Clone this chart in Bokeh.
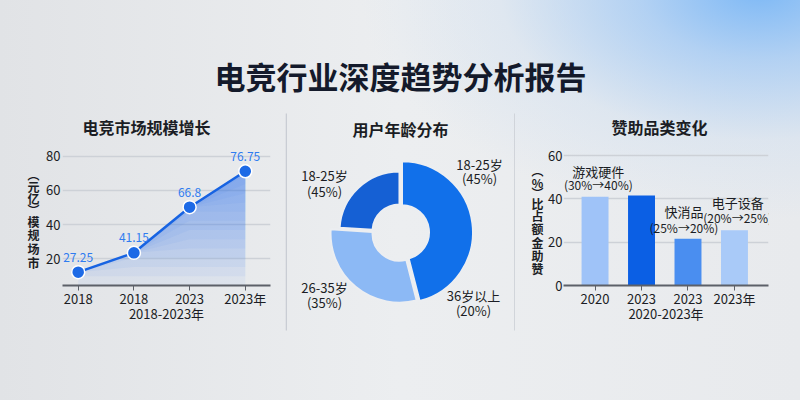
import math
from bokeh.plotting import figure
from bokeh.layouts import column, row
from bokeh.models import Range1d, Label, LabelSet, ColumnDataSource
from bokeh.core.properties import value
from bokeh.embed import file_html
from bokeh.resources import INLINE

FONT = "Noto Sans CJK SC"
DARK = "#1b1d24"

# ---------------- data ----------------
main_title = "电竞行业深度趋势分析报告"

market_title = "电竞市场规模增长"
market_ticks = ["2018", "2018", "2023", "2023年"]
market_size = [12.2, 23.5, 50.2, 71.2]
market_labels = ["27.25", "41.15", "66.8", "76.75"]
market_xlabel = "2018-2023年"
market_ylabel = "市场规模(亿元)"
market_yticks = [20, 40, 60, 80]

age_title = "用户年龄分布"
age_share = [46, 30, 24]
age_line1 = ["18-25岁", "36岁以上", "26-35岁", "18-25岁"]
age_line2 = ["(45%)", "(20%)", "(35%)", "(45%)"]

sponsor_title = "赞助品类变化"
sponsor_ticks = ["2020", "2023", "2023", "2023年"]
sponsor_share = [41.0, 41.6, 21.6, 25.5]
sponsor_note1 = ["游戏硬件", "快消品", "电子设备"]
sponsor_note2 = ["(30%→40%)", "(25%→20%)", "(20%→25%)"]
sponsor_xlabel = "2020-2023年"
sponsor_ylabel = "赞助金额占比(%)"
sponsor_yticks = [0, 20, 40, 60]

# ---------------- styles / layout ----------------
age_colors = ["#1170ea", "#8cb9f5", "#1560d4"]
age_outer = [71, 69, 60]
bar_colors = ["#9fc3f8", "#0b5fe4", "#4a8ef0", "#a9caf8"]
ylab1_pos = [174, 186, 198, 209, 221, 234, 248, 262]
ylab3_pos = [170, 181.5, 192, 203, 215, 228, 241.5, 255, 268]


def vertical_chars(s):
    rev = s[::-1].replace(")", "\uFE35").replace("(", "\uFE36")
    return list(rev)


def base_fig(w, h, xr, yr, ml, mr, mt, mb, axes=True):
    kw = dict(width=w, height=h, x_range=Range1d(*xr), y_range=Range1d(*yr),
              output_backend="svg", toolbar_location=None,
              min_border_left=ml, min_border_right=mr,
              min_border_top=mt, min_border_bottom=mb)
    if not axes:
        kw.update(x_axis_type=None, y_axis_type=None)
    p = figure(**kw)
    p.background_fill_alpha = 0
    p.border_fill_alpha = 0
    p.outline_line_color = None
    if not axes:
        p.frame_align = False
    return p


def style_axes(p, xticks, xoverrides, xlabel, yticks):
    p.xaxis.ticker = xticks
    p.xaxis.major_label_overrides = xoverrides
    p.yaxis.ticker = yticks
    for ax in p.axis:
        ax.major_label_text_font = FONT
        ax.major_label_text_font_size = "13px"
        ax.major_label_text_color = DARK
        ax.minor_tick_line_color = None
        ax.minor_tick_out = 0
        ax.minor_tick_in = 0
    p.yaxis.axis_line_color = None
    p.yaxis.major_tick_line_color = None
    p.yaxis.major_tick_out = 0
    p.yaxis.major_tick_in = 0
    p.yaxis.major_label_standoff = 2
    p.xaxis.axis_label = xlabel
    p.xaxis.axis_label_text_font = FONT
    p.xaxis.axis_label_text_font_size = "13px"
    p.xaxis.axis_label_text_font_style = "normal"
    p.xaxis.axis_label_text_color = DARK
    p.xaxis.axis_label_standoff = -7
    p.xaxis.axis_line_color = "#5c6068"
    p.xaxis.axis_line_width = 1.8
    p.xaxis.major_tick_line_color = "#5c6068"
    p.xaxis.major_tick_out = 5
    p.xaxis.major_tick_in = 0
    p.xaxis.major_label_standoff = -2
    p.xgrid.grid_line_color = None
    p.ygrid.grid_line_color = "#cdd1d7"
    p.ygrid.grid_line_width = 1.5


def set_title(p, text, offset):
    p.title.text = text
    p.title.align = "left"
    p.title.offset = offset
    p.title.text_font = FONT
    p.title.text_font_size = "16px"
    p.title.text_font_style = "bold"
    p.title.text_color = DARK
    p.title.standoff = 3


def add_text(p, x, y, text, size="13px", bold=False, color=DARK):
    p.add_layout(Label(x=x, y=y, text=text, text_font=FONT, text_font_size=size,
                       text_font_style="bold" if bold else "normal",
                       text_color=color, text_align="center",
                       text_baseline="middle"))


def label_fig(w, text, cx, ypos):
    f = base_fig(w, 300, (0, w), (0, 300), 0, 0, 0, 0, axes=False)
    chars = vertical_chars(text)
    ys = [400 - y for y in ypos]
    f.text(x=[cx] * len(chars), y=ys, text=chars, text_font=value(FONT),
           text_font_size="12px", text_font_style="bold", text_align="center",
           text_baseline="middle", text_color=DARK)
    return f


# ---------------- title strip ----------------
pt = base_fig(800, 100, (0, 800), (0, 100), 0, 0, 0, 0, axes=False)
pt.text(x=[400], y=[25], text=[main_title], text_font=value(FONT),
        text_font_size="31px", text_font_style="bold", text_align="center",
        text_baseline="middle", text_color="#141a2b")

# ---------------- chart 1: line ----------------
LW1 = 42
lab1 = label_fig(LW1, market_ylabel, 33, ylab1_pos)

S1X, S1Y = 55.7, 1.71
L1, R1, B1, T1 = 62, 270, 285, 140
x1_0 = -(77.7 - L1) / S1X
x1_1 = x1_0 + (R1 - L1) / S1X
y1_0 = 4.4
y1_1 = y1_0 + (B1 - T1) / S1Y
p1 = base_fig(285 - LW1, 300, (x1_0, x1_1), (y1_0, y1_1), L1 - LW1, 285 - R1, T1 - 100, 400 - B1)

xs1 = list(range(len(market_size)))
style_axes(p1, xs1, {i: t for i, t in enumerate(market_ticks)}, market_xlabel, market_yticks)
set_title(p1, market_title, 146 - 64 - L1)

# vertical gradient under the line
N = 14
top_level = 80.0
for k in range(N):
    lev = y1_0 + (top_level - y1_0) * k / N
    p1.varea(x=xs1, y1=[min(v, lev) for v in market_size], y2=market_size,
             fill_color="#2f7ff0", fill_alpha=0.058)

p1.line(xs1, market_size, line_color="#1763e2", line_width=2.5)
p1.scatter(xs1, market_size, size=13, fill_color="#1d6ae6",
           line_color="white", line_width=1.5)
src1 = ColumnDataSource(dict(x=xs1, y=[v + 15 / S1Y for v in market_size], t=market_labels))
p1.add_layout(LabelSet(x="x", y="y", text="t", source=src1, text_font=value(FONT),
                       text_font_size="12px", text_color="#2f7cf0",
                       text_align="center", text_baseline="middle"))

# ---------------- chart 2: donut ----------------
p2 = base_fig(230, 300, (285, 515), (0, 300), 0, 0, 0, 0, axes=False)


def c2(px, py):
    return px, 400 - py


cx, cy = c2(400, 232)
total = sum(age_share)
a = math.pi / 2
xs2, ys2, st, en = [], [], [], []
for s in age_share:
    span = 2 * math.pi * s / total
    start, end = a - span, a
    mid = (start + end) / 2
    xs2.append(cx + 1.5 * math.cos(mid))
    ys2.append(cy + 1.5 * math.sin(mid))
    st.append(start)
    en.append(end)
    a -= span
p2.annular_wedge(x=xs2, y=ys2, inner_radius=27, outer_radius=age_outer,
                 start_angle=st, end_angle=en, fill_color=age_colors,
                 line_color="#eceef1", line_width=2)

age_pos = [(479, 164, 178), (473, 295, 309.5), (324, 287, 302), (324, 175, 190.5)]
for (px, y1, y2), t1, t2 in zip(age_pos, age_line1, age_line2):
    add_text(p2, *c2(px, y1), t1, size="13px")
    add_text(p2, *c2(px, y2), t2, size="13px")

add_text(p2, *c2(400, 128), age_title, size="16px", bold=True)
for sx in (285.7, 514.5):
    p2.segment(x0=[sx], y0=[c2(0, 113)[1]], x1=[sx], y1=[c2(0, 330)[1]],
               line_color="#c8ccd3", line_width=1.5)

# ---------------- chart 3: bars ----------------
LW3 = 30
lab3 = label_fig(LW3, sponsor_ylabel, 537 - 515, ylab3_pos)

S3X, S3Y = 46.7, 2.178
L3, R3, B3, T3 = 562, 768, 286, 140
x3_0 = -(593.7 - L3) / S3X
x3_1 = x3_0 + (R3 - L3) / S3X
y3_1 = (B3 - T3) / S3Y
p3 = base_fig(285 - LW3, 300, (x3_0, x3_1), (0, y3_1), L3 - 515 - LW3, 800 - R3, T3 - 100, 400 - B3)


def c3(px, py):
    return x3_0 + (px - L3) / S3X, (B3 - py) / S3Y


xs3 = list(range(len(sponsor_share)))
style_axes(p3, xs3, {i: t for i, t in enumerate(sponsor_ticks)}, sponsor_xlabel, sponsor_yticks)
p3.yaxis.major_label_standoff = 1
p3.ygrid.ticker = [t for t in sponsor_yticks if t > 0]
p3.xaxis.axis_line_width = 2.2
set_title(p3, sponsor_title, 658 - 48 - L3)
p3.vbar(x=xs3, top=sponsor_share, width=0.58, fill_color=bar_colors, line_color=None)

note_pos = [(597, 171, 184), (683, 211.5, 227.5), (737, 202, 217.5)]
for (px, y1, y2), t1, t2 in zip(note_pos, sponsor_note1, sponsor_note2):
    add_text(p3, *c3(px, y1), t1, size="13px")
    add_text(p3, *c3(px, y2), t2, size="12px")

bg = ("radial-gradient(ellipse 400px 230px at 760px -10px, rgba(120,182,246,0.95) 0%, "
      "rgba(155,198,245,0.7) 30%, rgba(200,220,242,0.35) 65%, rgba(232,234,237,0) 100%), "
      "linear-gradient(90deg, #e1e3e6 0%, #eceef0 50%, #e8eaed 100%)")
layout = column(pt, row(lab1, p1, p2, lab3, p3), styles={"background": bg})

open("out.html", "w").write(file_html(layout, INLINE))
